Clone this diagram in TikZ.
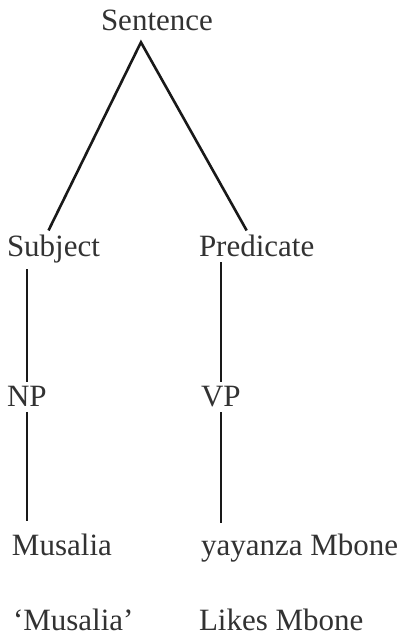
\documentclass[tikz,border=0pt]{standalone}
\usepackage{fontspec}
\setmainfont{Liberation Serif}
\definecolor{inkgray}{RGB}{50,50,50}
\definecolor{branchink}{RGB}{25,25,25}
\usetikzlibrary{positioning,calc}

\tikzset{
    word/.style={anchor=base west, inner sep=0pt, outer sep=5pt, text=inkgray,
        font=\fontsize{31pt}{36pt}\selectfont},
    branch/.style={draw=branchink, line width=2.6pt},
}

\begin{document}
\begin{tikzpicture}[x=1pt, y=1pt]
    \useasboundingbox (0,0) rectangle (410,639);
    % labels of the tree
    \node[word] (sent) at (96,608) {Sentence};
    \node[word] (subj) at (2,382) {Subject};
    \node[word] (pred) at (194,382) {Predicate};
    \node[word] (np) at (2,232) {NP};
    \node[word] (vp) at (196,232) {VP};
    \node[word] (mus) at (7,83) {Musalia};
    \node[word] (yay) at (196,83) {yayanza Mbone};
    \node[word] (musgl) at (8,9) {‘Musalia’};
    \node[word] (yaygl) at (194,9) {Likes Mbone};
    \coordinate (apex) at ([shift={(-16pt,-6pt)}]sent.south);
    % branches
    \draw[branch] ([xshift=-5pt]subj.north) -- (apex) -- ([xshift=-10pt]pred.north);
    \draw[branch] (np.north) -- (np.north |- subj.south);
    \draw[branch] (vp.north) -- (vp.north |- pred.south);
    \draw[branch, shorten >=8pt] (np.south) -- (np.south |- mus.north);
    \draw[branch, shorten >=6pt] (vp.south) -- (vp.south |- yay.north);
\end{tikzpicture}
\end{document}
